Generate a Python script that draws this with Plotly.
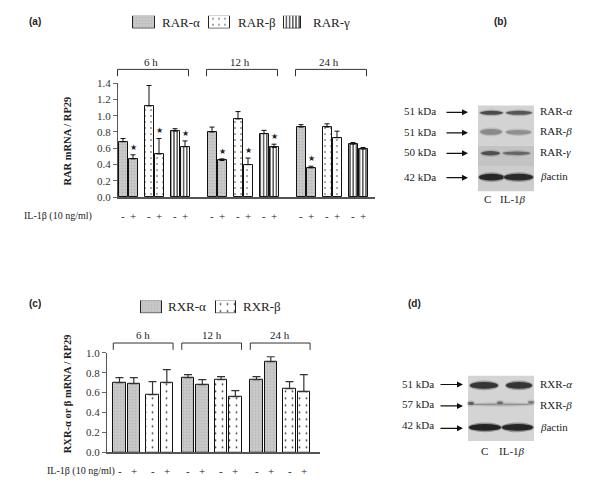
import plotly.graph_objects as go

W, H = 600, 489
SERIF = "Liberation Serif"
SANS = "Liberation Sans"

# ---------------- data ----------------
time_points = ["6 h", "12 h", "24 h"]
treatments = ["-", "+"]

rar_names = ["RAR-α", "RAR-β", "RAR-γ"]
rar_alpha = [0.68, 0.47, 0.80, 0.45, 0.86, 0.36]
rar_alpha_err = [0.04, 0.05, 0.06, 0.02, 0.03, 0.02]
rar_beta = [1.12, 0.53, 0.96, 0.40, 0.86, 0.73]
rar_beta_err = [0.25, 0.19, 0.09, 0.08, 0.04, 0.08]
rar_gamma = [0.81, 0.62, 0.78, 0.61, 0.65, 0.59]
rar_gamma_err = [0.03, 0.07, 0.04, 0.04, 0.02, 0.02]
rar_alpha_sig = [0, 1, 0, 1, 0, 1]
rar_beta_sig = [0, 1, 0, 1, 0, 0]
rar_gamma_sig = [0, 1, 0, 1, 0, 0]

rxr_names = ["RXR-α", "RXR-β"]
rxr_alpha = [0.70, 0.69, 0.75, 0.68, 0.73, 0.91]
rxr_alpha_err = [0.05, 0.06, 0.03, 0.05, 0.03, 0.05]
rxr_beta = [0.58, 0.70, 0.73, 0.56, 0.64, 0.61]
rxr_beta_err = [0.13, 0.13, 0.03, 0.06, 0.07, 0.17]

rar_ticks = [0.0, 0.2, 0.4, 0.6, 0.8, 1.0, 1.2, 1.4]
rxr_ticks = [0.0, 0.2, 0.4, 0.6, 0.8, 1.0]

blot_b_left = ["51 kDa", "51 kDa", "50 kDa", "42 kDa"]
blot_b_right = ["RAR-<i>α</i>", "RAR-<i>β</i>", "RAR-<i>γ</i>", "<i>β</i>actin"]
blot_d_left = ["51 kDa", "57 kDa", "42 kDa"]
blot_d_right = ["RXR-<i>α</i>", "RXR-<i>β</i>", "<i>β</i>actin"]
lanes = ["C", "IL-1<i>β</i>"]

# ---------------- helpers ----------------
def px(x):
    return x / W

def py(y):
    return 1 - y / H

# panel (a) geometry
A_X0, A_X1, A_Y0, A_Y1 = 118, 375, 196, 79
A_RANGE = [-0.5, 25.2]
A_G, A_R, A_T, A_W = 8.9, 2.6, 1.0, 0.9

# panel (c) geometry
C_X0, C_X1, C_Y0, C_Y1 = 107, 320, 457.5, 355.5
C_RANGE = [-0.874, 14.02]
C_G, C_R, C_T, C_W = 4.79, 2.31, 1.0, 0.87


def pos(g, r, t, G, R, T):
    return g * G + r * R + t * T


def a_xpaper(v):
    return px(A_X0) + (v - A_RANGE[0]) / (A_RANGE[1] - A_RANGE[0]) * (px(A_X1) - px(A_X0))


def c_xpaper(v):
    return px(C_X0) + (v - C_RANGE[0]) / (C_RANGE[1] - C_RANGE[0]) * (px(C_X1) - px(C_X0))


def text(x, y, s, size=11, xanchor="center", yanchor="middle", family=SERIF, **kw):
    d = dict(x=x, y=y, xref=kw.pop("xref", "paper"), yref=kw.pop("yref", "paper"), text=s,
             showarrow=False, xanchor=xanchor, yanchor=yanchor,
             font=dict(family=family, size=size, color="#222"))
    d.update(kw)
    return d


pat_alpha = dict(shape=".", fgcolor="#b4b4b4", bgcolor="#cacaca", size=3, solidity=0.25, fillmode="replace")
pat_beta = dict(shape=".", fgcolor="#3a3a3a", bgcolor="white", size=6, solidity=0.06, fillmode="replace")
pat_beta_c = dict(shape=".", fgcolor="#3a3a3a", bgcolor="white", size=7, solidity=0.05, fillmode="replace")
pat_gamma = dict(shape="|", fgcolor="#111111", bgcolor="white", size=3.2, solidity=0.33, fillmode="replace")

fig = go.Figure()
annotations = []
shapes = []

# ---------------- panel (a) bars ----------------
rar_vals = [rar_alpha, rar_beta, rar_gamma]
rar_errs = [rar_alpha_err, rar_beta_err, rar_gamma_err]
rar_sigs = [rar_alpha_sig, rar_beta_sig, rar_gamma_sig]
rar_pats = [pat_alpha, pat_beta, pat_gamma]

for r, name in enumerate(rar_names):
    xs = [pos(g, r, t, A_G, A_R, A_T) for g in range(3) for t in range(2)]
    fig.add_trace(go.Bar(
        x=xs, y=rar_vals[r], width=A_W, name=name, showlegend=False,
        marker=dict(color=rar_pats[r]["bgcolor"], pattern=rar_pats[r],
                    line=dict(color="#111111", width=1)),
        error_y=dict(type="data", array=rar_errs[r], arrayminus=[0] * 6, symmetric=False,
                     color="#111111", thickness=1, width=2.5),
        xaxis="x", yaxis="y",
    ))
    for i, x in enumerate(xs):
        if rar_sigs[r][i]:
            annotations.append(text(x, rar_vals[r][i] + rar_errs[r][i], "★", size=8,
                                    yanchor="bottom", family="DejaVu Sans",
                                    xref="x", yref="y", yshift=1))

# ---------------- panel (c) bars ----------------
rxr_vals = [rxr_alpha, rxr_beta]
rxr_errs = [rxr_alpha_err, rxr_beta_err]
rxr_pats = [pat_alpha, pat_beta_c]
for r, name in enumerate(rxr_names):
    xs = [pos(g, r, t, C_G, C_R, C_T) for g in range(3) for t in range(2)]
    fig.add_trace(go.Bar(
        x=xs, y=rxr_vals[r], width=C_W, name=name, showlegend=False,
        marker=dict(color=rxr_pats[r]["bgcolor"], pattern=rxr_pats[r],
                    line=dict(color="#111111", width=1)),
        error_y=dict(type="data", array=rxr_errs[r], arrayminus=[0] * 6, symmetric=False,
                     color="#333333", thickness=1.2, width=4),
        xaxis="x2", yaxis="y2",
    ))

# ---------------- legends (swatches) ----------------
leg_a = [(144, 22, pat_alpha), (219.5, 21, pat_beta), (292, 17, pat_gamma)]
leg_a_text_x = [160, 236, 311]
for (cx, w, pat), tx, name in zip(leg_a, leg_a_text_x, rar_names):
    fig.add_trace(go.Bar(x=[cx], y=[1], width=[w], showlegend=False, hoverinfo="skip",
                         marker=dict(color=pat["bgcolor"], pattern=pat, line=dict(color="#222", width=1)),
                         xaxis="x3", yaxis="y3"))
    annotations.append(text(px(tx), py(16.5), name, size=13, xanchor="left"))

leg_c = [(151.5, 21, pat_alpha), (226, 20, pat_beta_c)]
leg_c_text_x = [166, 241]
for (cx, w, pat), tx, name in zip(leg_c, leg_c_text_x, rxr_names):
    fig.add_trace(go.Bar(x=[cx], y=[1], width=[w], showlegend=False, hoverinfo="skip",
                         marker=dict(color=pat["bgcolor"], pattern=pat, line=dict(color="#222", width=1)),
                         xaxis="x4", yaxis="y4"))
    annotations.append(text(px(tx), py(308), name, size=13, xanchor="left"))

# ---------------- brackets and time labels ----------------
def bracket(x0, x1, ytop, ybot):
    shapes.append(dict(type="path", xref="paper", yref="paper",
                       path=f"M {x0},{py(ybot)} L {x0},{py(ytop)} L {x1},{py(ytop)} L {x1},{py(ybot)}",
                       line=dict(color="#333333", width=1)))

for g, lab in enumerate(time_points):
    x0 = a_xpaper(pos(g, 0, 0, A_G, A_R, A_T) - A_W / 2 - 0.1)
    x1 = a_xpaper(pos(g, 2, 1, A_G, A_R, A_T) + A_W / 2 - 0.1)
    bracket(x0, x1, 65, 72)
    annotations.append(text((x0 + x1) / 2 - 0.004, py(57), lab))
    x0 = c_xpaper(pos(g, 0, 0, C_G, C_R, C_T) - C_W / 2)
    x1 = c_xpaper(pos(g, 1, 1, C_G, C_R, C_T) + C_W / 2)
    bracket(x0, x1, 345.5, 352.5)
    annotations.append(text((x0 + x1) / 2, py(337), lab))

# ---------------- treatment rows ----------------
annotations.append(text(px(22), py(215), "IL-1β (10 ng/ml)", size=10, xanchor="left"))
for g in range(3):
    for r in range(3):
        for t in range(2):
            annotations.append(text(pos(g, r, t, A_G, A_R, A_T), py(215), treatments[t],
                                    xref="x"))
annotations.append(text(px(45), py(477), "IL-1β (10 ng/ml)", size=10, xanchor="left"))
for g in range(3):
    for r in range(2):
        for t in range(2):
            annotations.append(text(pos(g, r, t, C_G, C_R, C_T), py(477), treatments[t],
                                    xref="x2"))

# ---------------- axis titles ----------------
annotations.append(text(px(68), py(139), "<b>RAR mRNA / RP29</b>", size=10.5, textangle=-90))
annotations.append(text(px(67), py(398), "<b>RXR-α or β mRNA / RP29</b>", size=10.5, textangle=-90))

# ---------------- panel letters ----------------
for lab, x, y in [("(a)", 27, 16), ("(b)", 492, 16), ("(c)", 27, 305), ("(d)", 406, 305)]:
    annotations.append(text(px(x), py(y), f"<b>{lab}</b>", size=10, xanchor="left", family=SANS))

# ---------------- western blots ----------------
def rect(x0, y0, x1, y1, color, op=1.0):
    shapes.append(dict(type="rect", xref="paper", yref="paper", x0=px(x0), x1=px(x1),
                       y0=py(y1), y1=py(y0), fillcolor=color, opacity=op, line=dict(width=0)))

def band(x0, x1, yc, h, color, halo="#9a9a9a"):
    shapes.append(dict(type="circle", xref="paper", yref="paper", x0=px(x0 - 1), x1=px(x1 + 1),
                       y0=py(yc + h / 2 + 1.5), y1=py(yc - h / 2 - 1.5), fillcolor=halo,
                       opacity=0.6, line=dict(width=0)))
    shapes.append(dict(type="circle", xref="paper", yref="paper", x0=px(x0), x1=px(x1),
                       y0=py(yc + h / 2), y1=py(yc - h / 2), fillcolor=color, line=dict(width=0)))

# blot (b)
rect(478, 102, 534, 143, "#d3d3d3")
rect(478, 143, 534, 164, "#c3c3c3")
rect(478, 164, 534, 190, "#cdcdcd")
band(480, 503, 109.5, 4, "#4a4a4a")
band(506, 532, 109.5, 4, "#555555")
band(480, 502, 129, 6, "#8a8a8a", "#b0b0b0")
band(506, 531, 129.5, 5, "#909090", "#b0b0b0")
band(481, 500, 151, 4.5, "#4e4e4e")
band(503, 530, 151, 3.5, "#666666")
band(479, 504, 175.5, 7, "#262626", "#777777")
band(504, 533, 175.5, 7, "#2a2a2a", "#777777")

b_rows = [109, 130, 151, 176]
for lab, rlab, y in zip(blot_b_left, blot_b_right, b_rows):
    annotations.append(text(px(438), py(y - 1), lab, xanchor="right"))
    annotations.append(text(px(538), py(y - 1.5), rlab, xanchor="left"))
    annotations.append(dict(x=px(468), y=py(y), xref="paper", yref="paper", text="", showarrow=True,
                            ax=-23, ay=0, arrowhead=2, arrowsize=1, arrowwidth=1.2,
                            arrowcolor="#111", standoff=0))
annotations.append(text(px(487), py(198), lanes[0]))
annotations.append(text(px(513), py(198), lanes[1]))

# blot (d)
rect(468, 379, 534, 446, "#d4d4d4")
band(470, 498, 389, 7, "#353535", "#7a7a7a")
band(506, 532, 389, 7, "#353535", "#7a7a7a")
band(469, 533, 408.5, 1.8, "#8e8e8e", "#b8b8b8")
band(468, 474, 407.5, 3, "#5a5a5a", "#a0a0a0")
band(497, 503, 407, 3, "#6a6a6a", "#a8a8a8")
band(528, 534, 406.5, 3, "#7a7a7a", "#b0b0b0")
band(469, 501, 432, 7, "#242424", "#6a6a6a")
band(502, 533, 432, 7, "#262626", "#6a6a6a")

d_rows = [388, 410, 433]
d_text_rows = [388, 408, 430]
for lab, rlab, y, yt in zip(blot_d_left, blot_d_right, d_rows, d_text_rows):
    annotations.append(text(px(436), py(yt), lab, xanchor="right"))
    annotations.append(text(px(538), py(y - 1), rlab, xanchor="left"))
    annotations.append(dict(x=px(463), y=py(y), xref="paper", yref="paper", text="", showarrow=True,
                            ax=-24, ay=0, arrowhead=2, arrowsize=1, arrowwidth=1.2,
                            arrowcolor="#111", standoff=0))
annotations.append(text(px(484), py(456), lanes[0]))
annotations.append(text(px(512), py(456), lanes[1]))

# ---------------- layout ----------------
axis_common = dict(showgrid=False, zeroline=False, fixedrange=True)
fig.update_layout(
    width=W, height=H, margin=dict(l=0, r=0, t=0, b=0),
    paper_bgcolor="white", plot_bgcolor="white", barmode="overlay", bargap=0,
    showlegend=False, hovermode=False,
    xaxis=dict(domain=[px(A_X0), px(A_X1)], range=A_RANGE, showticklabels=False, ticks="",
               showline=True, linecolor="#555555", linewidth=1.5, anchor="y", **axis_common),
    yaxis=dict(domain=[py(A_Y0), py(A_Y1)], range=[0, 1.4], tickvals=rar_ticks,
               ticktext=[f"{v:.1f}" for v in rar_ticks], ticks="outside", ticklen=4,
               tickcolor="#666", showline=True, linecolor="#555555", linewidth=1, anchor="x",
               tickfont=dict(family=SERIF, size=11, color="#333"), **axis_common),
    xaxis2=dict(domain=[px(C_X0), px(C_X1)], range=C_RANGE, showticklabels=False, ticks="",
                showline=True, linecolor="#555555", linewidth=1.5, anchor="y2", **axis_common),
    yaxis2=dict(domain=[py(C_Y0), py(C_Y1)], range=[0, 1.0], tickvals=rxr_ticks,
                ticktext=[f"{v:.1f}" for v in rxr_ticks], ticks="outside", ticklen=4,
                tickcolor="#666", showline=True, linecolor="#555555", linewidth=1, anchor="x2",
                tickfont=dict(family=SERIF, size=11, color="#333"), **axis_common),
    xaxis3=dict(domain=[0, 1], range=[0, W], visible=False, anchor="y3", **axis_common),
    yaxis3=dict(domain=[py(23), py(10)], range=[0, 1], visible=False, anchor="x3", **axis_common),
    xaxis4=dict(domain=[0, 1], range=[0, W], visible=False, anchor="y4", **axis_common),
    yaxis4=dict(domain=[py(315), py(302)], range=[0, 1], visible=False, anchor="x4", **axis_common),
    annotations=annotations,
    shapes=shapes,
)

fig.write_html("out.html", config={"displayModeBar": False},
               post_script="document.body.style.margin='0px';")
